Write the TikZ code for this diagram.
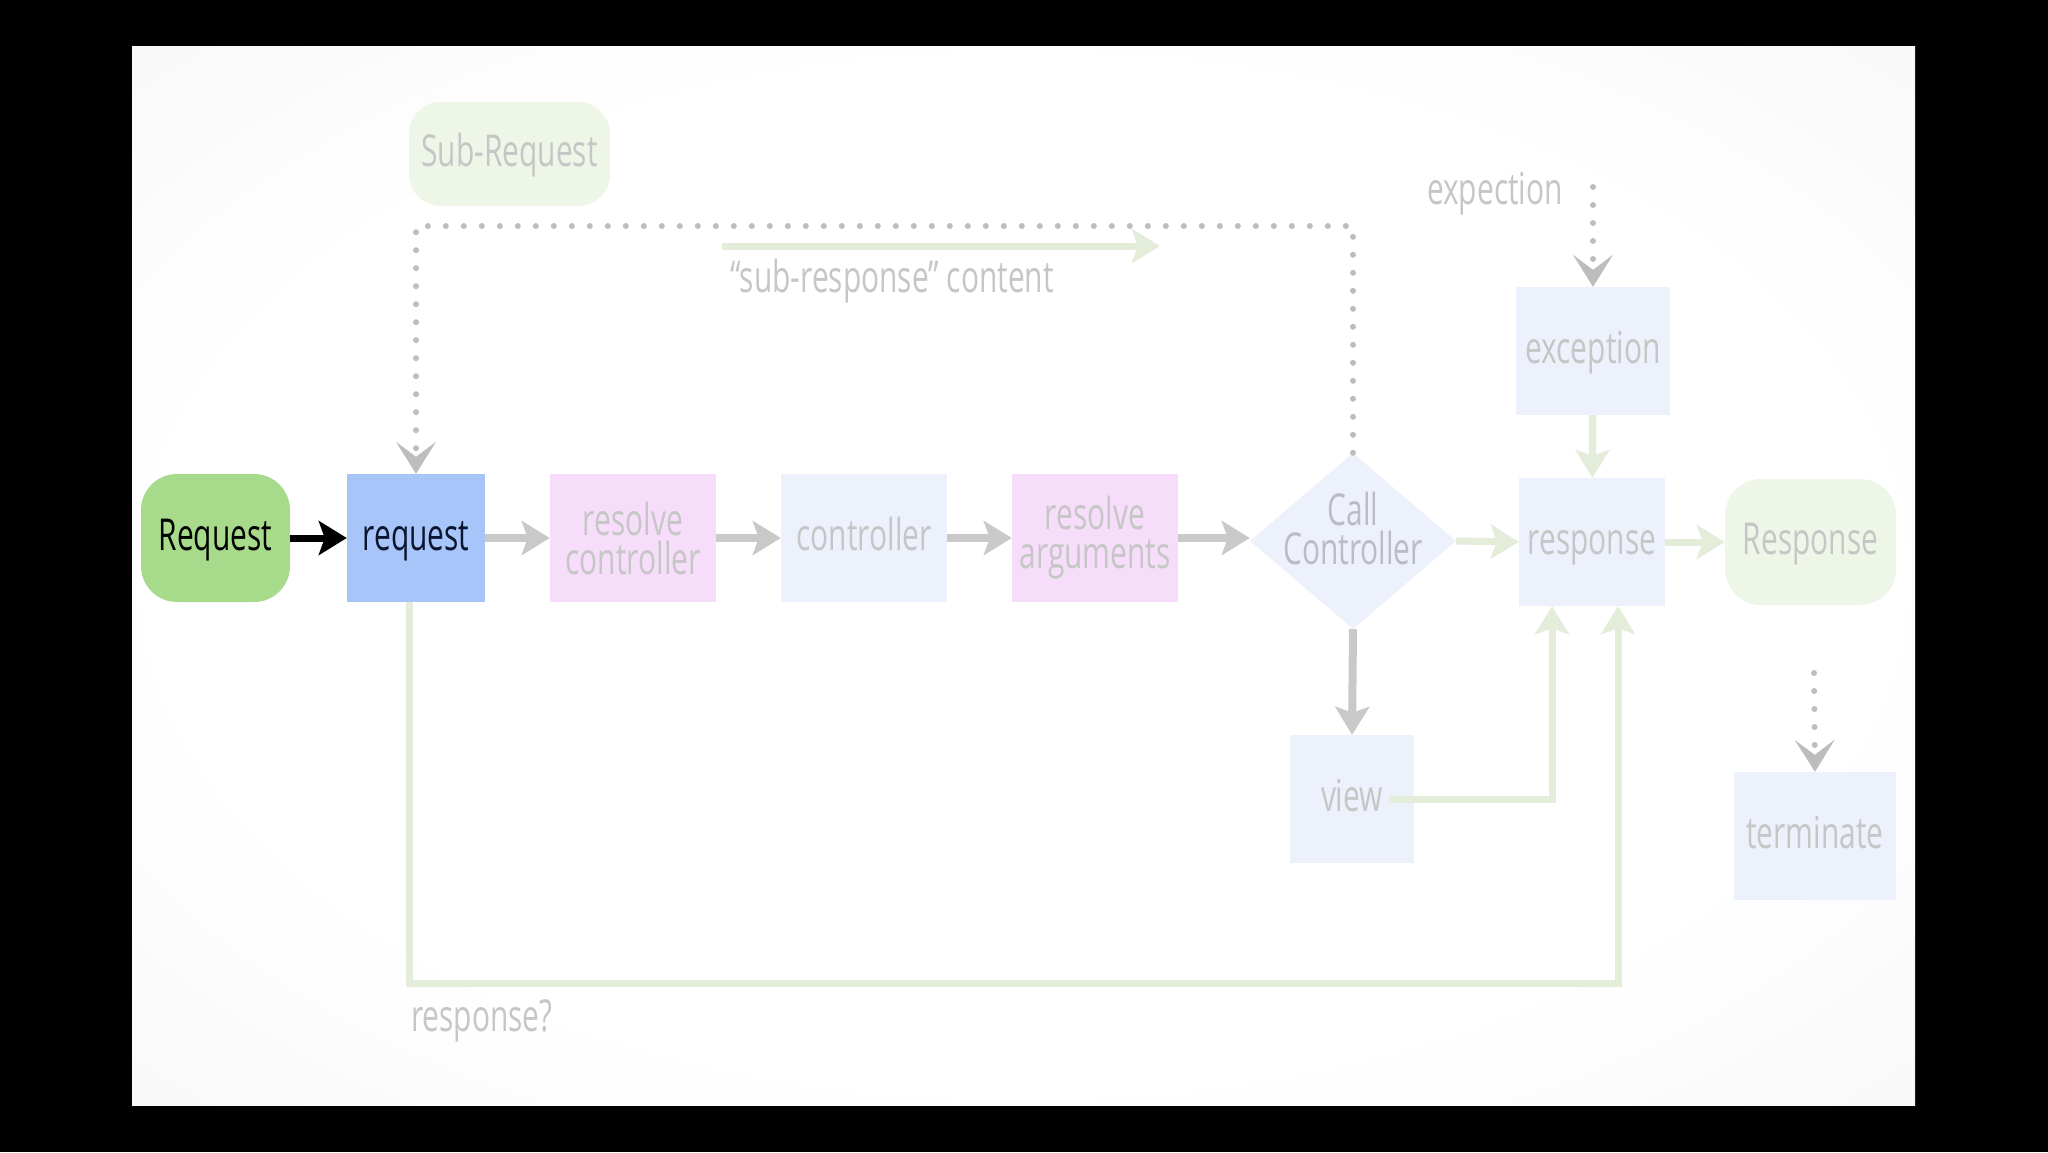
\documentclass[tikz,border=0pt]{standalone}
\usepackage{fontspec}
\setmainfont{Open Sans}[FakeStretch=0.68]
\usetikzlibrary{arrows.meta,shapes.geometric,calc}
\definecolor{reqgreen}{HTML}{A8DA8C}
\definecolor{reqblue}{HTML}{A7C5F8}
\definecolor{pinkbox}{HTML}{F6DDF9}
\definecolor{lbluebox}{HTML}{ECF1FB}
\definecolor{palegreen}{HTML}{EEF6E8}
\definecolor{lbltext}{HTML}{C6C6C6}
\definecolor{arrgray}{HTML}{C9C9C9}
\definecolor{arrgreen}{HTML}{E3EDD9}
\definecolor{dotgray}{HTML}{BDBDBD}
\definecolor{darktext}{HTML}{0A1530}
\definecolor{vigA}{HTML}{F6F6F6}
\definecolor{vigB}{HTML}{EEEEEE}
\definecolor{vigC}{HTML}{E6E6E6}
\pgfdeclareradialshading{vignette}{\pgfpoint{0bp}{0bp}}{color(0bp)=(white); color(24bp)=(white); color(40bp)=(vigA); color(50bp)=(vigB); color(71bp)=(vigC)}
\newcommand\lblfont{\fontsize{44}{39}\selectfont}
\begin{document}
\begin{tikzpicture}[x=1pt,y=-1pt,
  box/.style={rectangle, minimum height=128pt, inner sep=0pt, align=center, font=\lblfont, text=lbltext},
  oneline/.style={text height=32pt, text depth=8pt},
  rbox/.style={box, rounded corners=36pt},
  plain/.style={inner sep=0pt, font=\lblfont, text=lbltext, align=center},
  garrow/.style={draw=arrgray, line width=8pt, -{Stealth[length=28pt,width=34pt,inset=6pt]}},
  grnarrow/.style={draw=arrgreen, line width=7pt, -{Stealth[length=28pt,width=34pt,inset=6pt]}},
  blkarrow/.style={draw=black, line width=7pt, -{Stealth[length=28pt,width=34pt,inset=6pt]}},
  dotarrow/.style={draw=dotgray, line width=6pt, line cap=round, dash pattern=on 0pt off 18pt, -{Stealth[length=32pt,width=40pt,inset=15pt,line width=0pt]}}
]
\fill[black] (0,0) rectangle (2048,1152);
\useasboundingbox (0,0) rectangle (2048,1152);
\shade[shading=vignette] (132,46) rectangle (1915,1105);

% nodes
\node[rbox, oneline, fill=reqgreen, minimum width=149pt, text=black] (Req) at (215.5,538) {Request};
\node[box, oneline, fill=reqblue, minimum width=138pt, text=darktext] (req) at (416,538) {request};
\node[box, fill=pinkbox, minimum width=166pt] (rc) at (633,538) {resolve\\controller};
\node[box, oneline, fill=lbluebox, minimum width=166pt] (ctl) at (864,538) {controller};
\node[box, fill=pinkbox, minimum width=166pt] (ra) at (1095,538) {resolve\\arguments};
\node[diamond, fill=lbluebox, minimum width=206pt, minimum height=176pt, inner sep=0pt] (cc) at (1353,541) {};
\node[plain, text=lbltext!95!blue] (cctext) at (1353,528) {Call\\Controller};
\node[box, oneline, fill=lbluebox, minimum width=146pt] (resp) at (1592,542) {response};
\node[rbox, oneline, fill=palegreen, minimum width=171pt, minimum height=126pt] (Resp) at (1810.5,542) {Response};
\node[box, oneline, fill=lbluebox, minimum width=154pt] (exc) at (1593,351) {exception};
\node[box, oneline, fill=lbluebox, minimum width=162pt] (term) at (1815,836) {terminate};
\node[box, oneline, fill=lbluebox, minimum width=124pt] (view) at (1352,799) {view};
\node[rbox, oneline, fill=palegreen, minimum width=201pt, minimum height=104pt, rounded corners=32pt] (sub) at (509.5,154) {Sub-Request};

% labels
\node[plain] (exlbl) at (1495,194) {expection};
\node[plain] (srlbl) at (892,281) {“sub-response” content};
\node[plain, anchor=west] (rqlbl) at (411,1021) {response?};

% helper coordinates
\coordinate (toprow) at (0,226);
\coordinate (loopy) at (0,983);
\coordinate (sa) at (722,246);
\coordinate (sb) at (1160,246);
\coordinate (ex0) at (1593,187);
\coordinate (t0) at (1814,673);

% connectors
\draw[blkarrow] (Req) -- (req);
\draw[garrow] (req) -- (rc);
\draw[garrow] (rc) -- (ctl);
\draw[garrow] (ctl) -- (ra);
\draw[garrow] (ra.east) -- (ra.east -| cc.west);
\draw[grnarrow] (cc.east) -- (resp.west);
\draw[grnarrow] (resp) -- (Resp);
\draw[grnarrow] (exc) -- (resp);
\draw[garrow] (cc.south) -- (view.north);
\draw[grnarrow] ([xshift=-25pt]view.east) -| ([xshift=-40pt]resp.south);
\draw[grnarrow] ([xshift=-7pt]req.south) -- ([xshift=-7pt]req.south |- loopy) -| ([xshift=26pt]resp.south);
\draw[grnarrow] (sa) -- (sb);
\draw[dotarrow] (cc.north) -- (cc.north |- toprow) -| (req.north);
\draw[dotarrow] (ex0) -- (exc.north);
\draw[dotarrow] (t0) -- (term.north);
\end{tikzpicture}
\end{document}
